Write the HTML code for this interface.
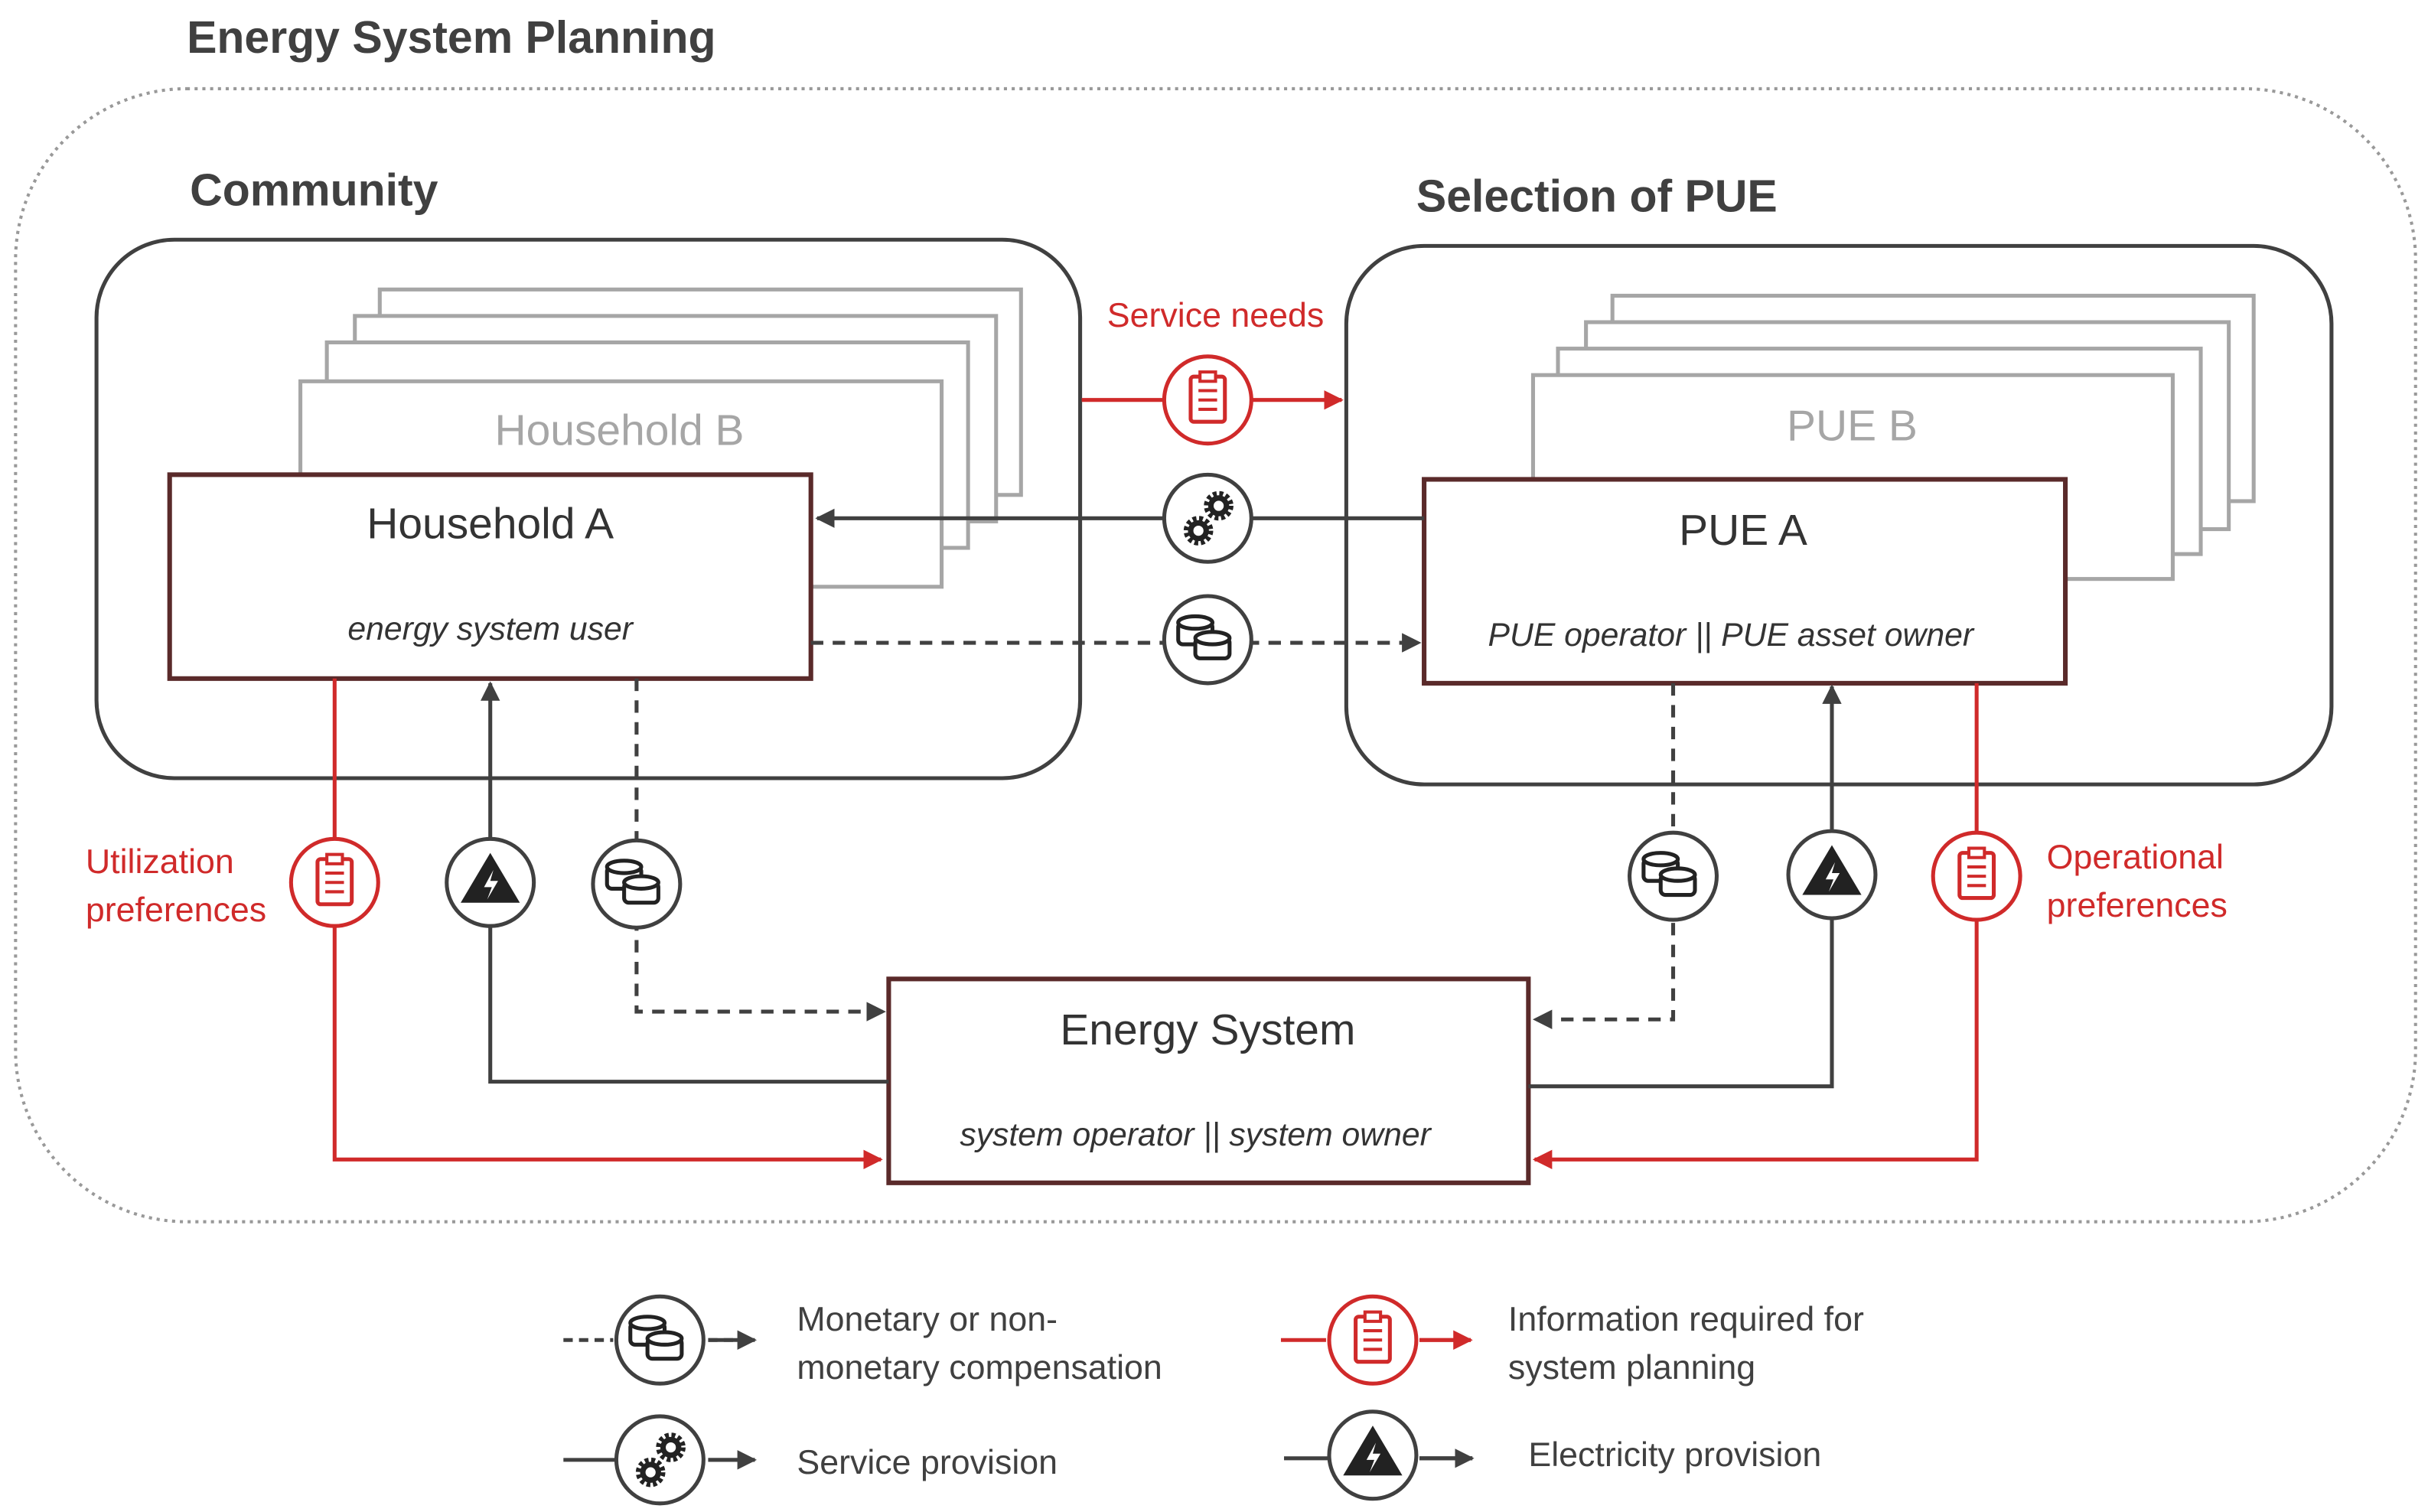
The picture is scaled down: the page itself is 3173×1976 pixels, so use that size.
<!DOCTYPE html>
<html><head><meta charset="utf-8"><style>
html,body{margin:0;padding:0;background:#fff}
svg{display:block}
text{font-family:"Liberation Sans",sans-serif}
</style></head><body>
<svg width="3173" height="1976" viewBox="0 0 1560 971.5" preserveAspectRatio="none" xmlns="http://www.w3.org/2000/svg">
<defs>
<marker id="ag" viewBox="0 0 10 10" refX="9" refY="5" markerWidth="5" markerHeight="5" orient="auto"><path d="M0,0L10,5L0,10z" fill="#404040"/></marker>
<marker id="ar" viewBox="0 0 10 10" refX="9" refY="5" markerWidth="5" markerHeight="5" orient="auto"><path d="M0,0L10,5L0,10z" fill="#d02a2a"/></marker>
<g id="clip">
<circle r="28" fill="#fff" stroke="#d02a2a" stroke-width="2.5"/>
<rect x="-11" y="-15" width="22" height="29" rx="2" fill="none" stroke="#d02a2a" stroke-width="2.5"/>
<rect x="-5" y="-18" width="10" height="6" fill="#fff" stroke="#d02a2a" stroke-width="2"/>
<path d="M-6,-6h12M-6,0h12M-6,6h12" stroke="#d02a2a" stroke-width="2"/>
</g>
<g id="gear">
<circle r="28" fill="#fff" stroke="#404040" stroke-width="2.5"/>
<circle cx="7" cy="-8" r="7" fill="none" stroke="#222" stroke-width="5" stroke-dasharray="2.2 1.5"/>
<circle cx="7" cy="-8" r="5" fill="none" stroke="#222" stroke-width="3.5"/>
<circle cx="-6" cy="8" r="7" fill="none" stroke="#222" stroke-width="5" stroke-dasharray="2.2 1.5"/>
<circle cx="-6" cy="8" r="5" fill="none" stroke="#222" stroke-width="3.5"/>
</g>
<g id="coin">
<circle r="28" fill="#fff" stroke="#404040" stroke-width="2.5"/>
<g fill="#fff" stroke="#222" stroke-width="2.5">
<rect x="-19" y="-11" width="22" height="14" rx="3"/>
<ellipse cx="-8" cy="-11" rx="11" ry="4"/>
<rect x="-8" y="-1" width="22" height="13" rx="3"/>
<ellipse cx="3" cy="-1" rx="11" ry="4"/>
</g>
</g>
<g id="elec">
<circle r="28" fill="#fff" stroke="#404040" stroke-width="2.5"/>
<path d="M0,-19L19,13H-19z" fill="#222"/>
<path d="M2,-8L-4,3H1L-2,11L5,-1H0z" fill="#fff"/>
</g>
</defs>
<text x="120" y="34" font-size="29" font-weight="bold" fill="#404040">Energy System Planning</text>
<rect x="10" y="57" width="1542" height="728" rx="110" fill="none" stroke="#999" stroke-width="2" stroke-dasharray="2 3"/>
<text x="122" y="132" font-size="29" font-weight="bold" fill="#404040">Community</text>
<text x="910" y="136" font-size="29" font-weight="bold" fill="#404040">Selection of PUE</text>
<rect x="62" y="154" width="632" height="346" rx="50" fill="none" stroke="#404040" stroke-width="2.5"/>
<rect x="865" y="158" width="633" height="346" rx="50" fill="none" stroke="#404040" stroke-width="2.5"/>
<g fill="#fff" stroke="#a6a6a6" stroke-width="2.5">
<rect x="244" y="186" width="412" height="132"/>
<rect x="228" y="203" width="412" height="132"/>
<rect x="210" y="220" width="412" height="132"/>
<rect x="193" y="245" width="412" height="132"/>
<rect x="1036" y="190" width="412" height="132"/>
<rect x="1019" y="207" width="413" height="133"/>
<rect x="1001" y="224" width="413" height="132"/>
<rect x="985" y="241" width="411" height="131"/>
</g>
<text x="398" y="286" font-size="28" fill="#a6a6a6" text-anchor="middle">Household B</text>
<text x="1190" y="283" font-size="28" fill="#a6a6a6" text-anchor="middle">PUE B</text>
<rect x="109" y="305" width="412" height="131" fill="#fff" stroke="#5a2a2a" stroke-width="3"/>
<text x="315" y="346" font-size="28" fill="#333" text-anchor="middle">Household A</text>
<text x="315" y="411" font-size="21" font-style="italic" fill="#333" text-anchor="middle">energy system user</text>
<rect x="915" y="308" width="412" height="131" fill="#fff" stroke="#5a2a2a" stroke-width="3"/>
<text x="1120" y="350" font-size="28" fill="#333" text-anchor="middle">PUE A</text>
<text x="1112" y="415" font-size="21" font-style="italic" fill="#333" text-anchor="middle">PUE operator || PUE asset owner</text>
<rect x="571" y="629" width="411" height="131" fill="#fff" stroke="#5a2a2a" stroke-width="3"/>
<text x="776" y="671" font-size="28" fill="#333" text-anchor="middle">Energy System</text>
<text x="768" y="736" font-size="21" font-style="italic" fill="#333" text-anchor="middle">system operator || system owner</text>
<!-- connectors -->
<g fill="none" stroke-width="2.5">
<path d="M695,257H862" stroke="#d02a2a" marker-end="url(#ar)"/>
<path d="M915,333H525" stroke="#404040" marker-end="url(#ag)"/>
<path d="M521,413H912" stroke="#404040" stroke-dasharray="8 6" marker-end="url(#ag)"/>
<path d="M215,436V745H566" stroke="#d02a2a" marker-end="url(#ar)"/>
<path d="M571,695H315V439" stroke="#404040" marker-end="url(#ag)"/>
<path d="M409,436V650H568" stroke="#404040" stroke-dasharray="8 6" marker-end="url(#ag)"/>
<path d="M1075,439V655H986" stroke="#404040" stroke-dasharray="8 6" marker-end="url(#ag)"/>
<path d="M982,698H1177V441" stroke="#404040" marker-end="url(#ag)"/>
<path d="M1270,439V745H986" stroke="#d02a2a" marker-end="url(#ar)"/>
<path d="M362,861H394M455,861H485" stroke="#404040" stroke-dasharray="6 4"/>
<path d="M455,861H485" stroke="#404040" marker-end="url(#ag)"/>
<path d="M362,938H395M455,938H485" stroke="#404040"/>
<path d="M455,938H485" stroke="#404040" marker-end="url(#ag)"/>
<path d="M823,861H852M912,861H945" stroke="#d02a2a"/>
<path d="M912,861H945" stroke="#d02a2a" marker-end="url(#ar)"/>
<path d="M825,937H853M912,937H946" stroke="#404040"/>
<path d="M912,937H946" stroke="#404040" marker-end="url(#ag)"/>
</g>
<use href="#clip" x="776" y="257"/>
<use href="#gear" x="776" y="333"/>
<use href="#coin" x="776" y="411"/>
<use href="#clip" x="215" y="567"/>
<use href="#elec" x="315" y="567"/>
<use href="#coin" x="409" y="568"/>
<use href="#coin" x="1075" y="563"/>
<use href="#elec" x="1177" y="562"/>
<use href="#clip" x="1270" y="563"/>
<use href="#coin" x="424" y="861"/>
<use href="#gear" x="424" y="938"/>
<use href="#clip" x="882" y="861"/>
<use href="#elec" x="882" y="935"/>
<g font-size="22" fill="#d02a2a">
<text x="781" y="210" text-anchor="middle">Service needs</text>
<text x="55" y="561">Utilization</text>
<text x="55" y="592">preferences</text>
<text x="1315" y="558">Operational</text>
<text x="1315" y="589">preferences</text>
</g>
<g font-size="22" fill="#404040">
<text x="512" y="855">Monetary or non-</text>
<text x="512" y="886">monetary compensation</text>
<text x="512" y="947">Service provision</text>
<text x="969" y="855">Information required for</text>
<text x="969" y="886">system planning</text>
<text x="982" y="942">Electricity provision</text>
</g>
</svg>
</body></html>
